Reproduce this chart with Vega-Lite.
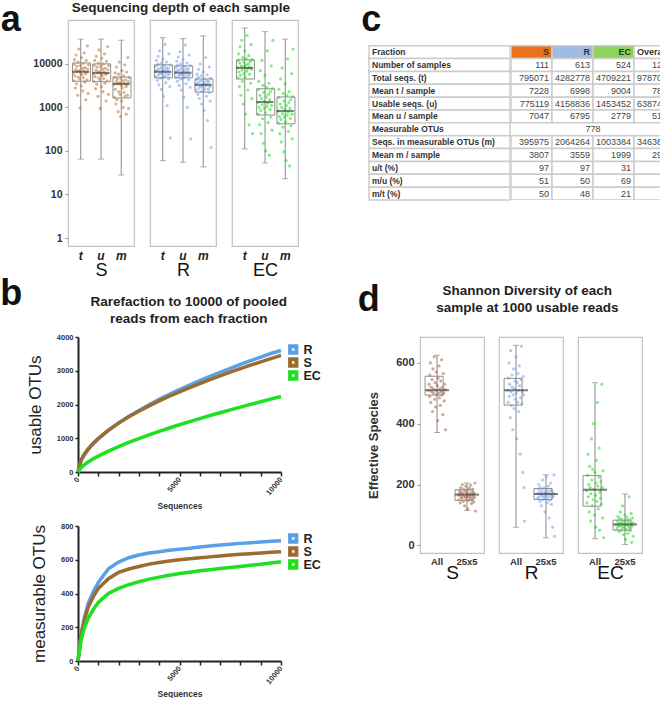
{
"$schema":"https://vega.github.io/schema/vega-lite/v6.json",
"padding":0,
"background":"white",
"config":{"font":"Liberation Sans","view":{"stroke":"#c2c2c2","strokeWidth":1.2},"axis":{"grid":false},"title":{"color":"#111"}},
"datasets":{
"a":[
{"k":"p","f":"S","v":"t","y":[6200,4100,9800,12500,5300,2800,7400,16000,3500,8800,6600,1900,11000,5000,22000,7000,4500,980,9200,6100,3100,14000,5600,7900,2400,10300,4800,6900,18000,3800,8200,5900,1500,12000,6400,4300,26000,7600,2100,9500]},
{"k":"p","f":"S","v":"u","y":[5900,3900,9300,12000,5100,2700,7100,15000,3400,8400,6300,1800,10500,4800,21000,6700,4300,950,8800,5800,3000,13500,5400,7600,2300,9900,4600,6600,17000,3600,7900,5700,1400,11500,6100,4100,25000,7300,2000,9100]},
{"k":"p","f":"S","v":"m","y":[3400,1700,4900,6200,2600,1200,3900,8500,1500,4500,3500,800,5800,2300,11000,3700,2000,620,4700,3200,1400,7000,2800,4100,1000,5300,2200,3600,9500,1800,4300,3000,700,6500,3300,1900,14000,3900,950,4800]},
{"k":"p","f":"R","v":"t","y":[6600,5100,8900,12000,7200,4200,9800,15000,5600,3300,7700,20000,6100,4700,10500,2600,8300,5900,6900,13000,4900,1800,7400,9200,5300,28000,6300,3700,8100,11000,1100,6800,5500,7900,4500,17000,6000,3000,9500,200]},
{"k":"p","f":"R","v":"u","y":[6300,4900,8500,11500,6900,4000,9400,14500,5400,3200,7400,19000,5800,4500,10000,2500,7900,5600,6600,12500,4700,1700,7100,8800,5100,27000,6000,3500,7700,10500,1000,6500,5300,7600,4300,16000,5700,2900,9100,190]},
{"k":"p","f":"R","v":"m","y":[3300,2500,4400,5800,3600,2000,4900,7500,2800,1600,3900,10000,3100,2300,5300,1200,4200,2900,3400,6500,2400,850,3700,4600,2700,14000,3200,1800,4100,5600,500,3500,2600,4000,2200,8500,3000,1400,4700,120]},
{"k":"p","f":"EC","v":"t","y":[8100,4800,12000,17000,6500,3000,10500,25000,5500,1900,9000,35000,7200,4000,14000,1200,11000,6000,8800,20000,5000,700,9500,13000,6800,45000,7800,2500,10000,15500,400,8500,5800,11500,3600,28000,7500,1600,12500,250]},
{"k":"p","f":"EC","v":"u","y":[1300,700,2600,4000,1000,400,1900,7000,850,250,1600,12000,1150,550,3200,150,2200,950,1400,5500,750,100,1750,2900,1050,20000,1250,450,2000,3600,80,1500,900,2300,600,9000,1100,300,2700,35000]},
{"k":"p","f":"EC","v":"m","y":[820,440,1700,2600,620,250,1200,4500,530,160,1000,8000,720,350,2100,95,1400,600,900,3500,470,60,1100,1900,660,13000,780,280,1300,2300,45,950,560,1500,380,6000,700,190,1750,22000]},
{"k":"s","f":"S","v":"t","lo":65,"q1":4000,"md":6600,"q3":10500,"hi":37000},
{"k":"s","f":"S","v":"u","lo":65,"q1":3900,"md":6200,"q3":10000,"hi":37000},
{"k":"s","f":"S","v":"m","lo":28,"q1":1650,"md":3470,"q3":5000,"hi":35000},
{"k":"s","f":"R","v":"t","lo":60,"q1":4800,"md":6600,"q3":9500,"hi":40000},
{"k":"s","f":"R","v":"u","lo":55,"q1":4800,"md":6300,"q3":9000,"hi":38000},
{"k":"s","f":"R","v":"m","lo":43,"q1":2250,"md":3300,"q3":4500,"hi":44000},
{"k":"s","f":"EC","v":"t","lo":111,"q1":4500,"md":8100,"q3":12400,"hi":67000},
{"k":"s","f":"EC","v":"u","lo":53,"q1":670,"md":1330,"q3":2680,"hi":55000},
{"k":"s","f":"EC","v":"m","lo":23,"q1":420,"md":830,"q3":1740,"hi":37000}
],
"d":[
{"kd":"pts","g":"S","w":"All","e":[510,530,490,560,600,470,520,505,545,440,580,515,500,620,480,535,455,510,570,495,525,410,550,500,590,485,515,460,540,505,610,495,520,430,565,500,475,530,512,380]},
{"kd":"pts","g":"S","w":"25x5","e":[165,150,180,170,140,190,160,175,155,200,168,145,185,162,130,178,158,195,150,172,165,120,182,160,148,188,170,155,198,163,138,176,152,185,166,143,172,158,205,113]},
{"kd":"pts","g":"R","w":"All","e":[510,470,550,600,490,530,420,640,505,460,560,520,380,495,580,450,515,540,480,620,500,350,535,470,565,510,440,590,525,300,485,545,655,465,505,240,555,495,190,80]},
{"kd":"pts","g":"R","w":"25x5","e":[170,155,185,200,160,175,145,190,168,130,180,162,215,150,172,188,158,110,176,165,225,152,183,140,170,195,160,90,178,148,205,167,135,182,157,60,173,163,232,30]},
{"kd":"pts","g":"EC","w":"All","e":[180,140,230,300,160,200,110,260,190,80,170,350,215,130,250,150,400,185,100,240,165,60,205,280,145,470,195,120,225,320,50,175,155,210,135,530,190,90,245,25]},
{"kd":"pts","g":"EC","w":"25x5","e":[68,55,80,95,62,72,45,88,65,110,75,50,85,60,130,70,35,78,58,100,66,20,82,52,92,68,40,76,63,160,57,84,48,71,105,10,64,90,74,30]},
{"kd":"box","g":"S","w":"All","wlo":371,"bq1":494,"bmd":510,"bq3":556,"whi":625},
{"kd":"box","g":"S","w":"25x5","wlo":115,"bq1":148,"bmd":167,"bq3":183,"whi":205},
{"kd":"box","g":"R","w":"All","wlo":60,"bq1":461,"bmd":510,"bq3":549,"whi":658},
{"kd":"box","g":"R","w":"25x5","wlo":25,"bq1":151,"bmd":169,"bq3":187,"whi":232},
{"kd":"box","g":"EC","w":"All","wlo":22,"bq1":129,"bmd":183,"bq3":230,"whi":535},
{"kd":"box","g":"EC","w":"25x5","wlo":3,"bq1":50,"bmd":69,"bq3":83,"whi":169}
],
"lines":[
{"p":"u","s":"R","x":[0,150,300,500,750,1000,1500,2000,2500,3000,3500,4000,4500,5000,5500,6000,6500,7000,7500,8000,8500,9000,9500,10000],"y":[0,334,495,661,833,979,1232,1451,1642,1825,1993,2151,2299,2440,2576,2705,2831,2952,3071,3186,3297,3406,3510,3600]},
{"p":"u","s":"S","x":[0,150,300,500,750,1000,1500,2000,2500,3000,3500,4000,4500,5000,5500,6000,6500,7000,7500,8000,8500,9000,9500,10000],"y":[0,358,520,686,853,997,1240,1448,1635,1802,1960,2106,2244,2376,2502,2620,2738,2850,2957,3062,3165,3265,3360,3454]},
{"p":"u","s":"EC","x":[0,150,300,500,750,1000,1500,2000,2500,3000,3500,4000,4500,5000,5500,6000,6500,7000,7500,8000,8500,9000,9500,10000],"y":[0,131,210,296,389,472,620,754,877,991,1101,1205,1303,1400,1493,1583,1673,1757,1841,1923,2003,2083,2159,2235]},
{"p":"m","s":"R","x":[0,150,300,500,750,1000,1500,2000,2500,3000,3500,4000,4500,5000,5500,6000,6500,7000,7500,8000,8500,9000,9500,10000],"y":[0,160,250,341,410,465,547,586,612,628,640,648,656,662,668,676,682,687,692,697,701,705,709,712]},
{"p":"m","s":"S","x":[0,150,300,500,750,1000,1500,2000,2500,3000,3500,4000,4500,5000,5500,6000,6500,7000,7500,8000,8500,9000,9500,10000],"y":[0,150,235,318,380,430,488,525,545,560,574,584,592,600,606,612,617,622,628,632,636,640,644,647]},
{"p":"m","s":"EC","x":[0,150,300,500,750,1000,1500,2000,2500,3000,3500,4000,4500,5000,5500,6000,6500,7000,7500,8000,8500,9000,9500,10000],"y":[0,122,190,253,305,347,400,430,452,470,485,497,508,518,526,535,541,548,554,560,567,574,581,588]}
],
"table":[
{"c":"label","r":1,"t":"Fraction"},{"c":"S","r":1,"t":"S"},{"c":"R","r":1,"t":"R"},{"c":"EC","r":1,"t":"EC"},{"c":"Overall","r":1,"t":"Overall"},
{"c":"label","r":2,"t":"Number of samples"},{"c":"S","r":2,"t":"111"},{"c":"R","r":2,"t":"613"},{"c":"EC","r":2,"t":"524"},{"c":"Overall","r":2,"t":"1248"},
{"c":"label","r":3,"t":"Total seqs. (t)"},{"c":"S","r":3,"t":"795071"},{"c":"R","r":3,"t":"4282778"},{"c":"EC","r":3,"t":"4709221"},{"c":"Overall","r":3,"t":"9787070"},
{"c":"label","r":4,"t":"Mean t / sample"},{"c":"S","r":4,"t":"7228"},{"c":"R","r":4,"t":"6998"},{"c":"EC","r":4,"t":"9004"},{"c":"Overall","r":4,"t":"7861"},
{"c":"label","r":5,"t":"Usable seqs. (u)"},{"c":"S","r":5,"t":"775119"},{"c":"R","r":5,"t":"4158836"},{"c":"EC","r":5,"t":"1453452"},{"c":"Overall","r":5,"t":"6387407"},
{"c":"label","r":6,"t":"Mean u / sample"},{"c":"S","r":6,"t":"7047"},{"c":"R","r":6,"t":"6795"},{"c":"EC","r":6,"t":"2779"},{"c":"Overall","r":6,"t":"5130"},
{"c":"label","r":7,"t":"Measurable OTUs"},{"c":"EC","r":7,"t":"778"},
{"c":"label","r":8,"t":"Seqs. in measurable OTUs (m)"},{"c":"S","r":8,"t":"395975"},{"c":"R","r":8,"t":"2064264"},{"c":"EC","r":8,"t":"1003384"},{"c":"Overall","r":8,"t":"3463623"},
{"c":"label","r":9,"t":"Mean m / sample"},{"c":"S","r":9,"t":"3807"},{"c":"R","r":9,"t":"3559"},{"c":"EC","r":9,"t":"1999"},{"c":"Overall","r":9,"t":"2920"},
{"c":"label","r":10,"t":"u/t (%)"},{"c":"S","r":10,"t":"97"},{"c":"R","r":10,"t":"97"},{"c":"EC","r":10,"t":"31"},{"c":"Overall","r":10,"t":"65"},
{"c":"label","r":11,"t":"m/u (%)"},{"c":"S","r":11,"t":"51"},{"c":"R","r":11,"t":"50"},{"c":"EC","r":11,"t":"69"},{"c":"Overall","r":11,"t":"54"},
{"c":"label","r":12,"t":"m/t (%)"},{"c":"S","r":12,"t":"50"},{"c":"R","r":12,"t":"48"},{"c":"EC","r":12,"t":"21"},{"c":"Overall","r":12,"t":"35"}
]
},
"resolve":{"scale":{"color":"independent","fill":"independent","xOffset":"independent"},"legend":{"color":"independent"}},
"spacing":-5,
"vconcat":[
{"hconcat":[
 {"title":{"text":"Sequencing depth of each sample","fontSize":13.5,"fontWeight":"bold","color":"#222","anchor":"middle","frame":"bounds","offset":-13,"dx":31.5},
  "spacing":14,
  "resolve":{"scale":{"xOffset":"independent"}},
  "hconcat":[
   {"data":{"name":"a"},"transform":[{"filter":"datum.f=='S'"}],"width":66,"height":226,
    "title":{"text":"a","fontSize":36,"fontWeight":"bold","color":"#111","anchor":"start","frame":"bounds","offset":-19,"dx":-32},
    "encoding":{"x":{"field":"v","type":"nominal","scale":{"domain":["t","u","m"],"paddingInner":0,"paddingOuter":0.13},"axis":{"title":"S","titleFontSize":18,"titleFontWeight":"normal","titleColor":"#111","titlePadding":0,"labelAngle":0,"labelFontStyle":"italic","labelFontWeight":"bold","labelFontSize":12,"labelColor":"#222","ticks":false,"domain":false,"labelPadding":4}}},
    "layer":[
     {"transform":[{"filter":"datum.k=='s'"}],"mark":{"type":"rule","color":"#8a8a8a","strokeWidth":1},"encoding":{"y":{"field":"lo","type":"quantitative","title":null,"scale":{"type":"log","domain":[0.655,102000],"nice":false},"axis":{"values":[1,10,100,1000,10000],"format":"d","labelFontSize":10.5,"labelFontWeight":"bold","labelColor":"#333","tickColor":"#999","tickSize":3,"domain":false,"labelPadding":3}},"y2":{"field":"hi"}}},
     {"transform":[{"filter":"datum.k=='p'"},{"flatten":["y"]},{"window":[{"op":"row_number","as":"i"}],"groupby":["v"]}],"mark":{"type":"circle","size":10,"opacity":0.5,"color":"#b5651d"},"encoding":{"y":{"field":"y","type":"quantitative","title":null},"xOffset":{"field":"i","type":"quantitative","scale":{"domain":[-6,46]}}}},
     {"transform":[{"filter":"datum.k=='s'"}],"mark":{"type":"tick","color":"#8a8a8a","thickness":1,"size":6},"encoding":{"y":{"field":"lo","type":"quantitative","title":null}}},
     {"transform":[{"filter":"datum.k=='s'"}],"mark":{"type":"tick","color":"#8a8a8a","thickness":1,"size":6},"encoding":{"y":{"field":"hi","type":"quantitative","title":null}}},
     {"transform":[{"filter":"datum.k=='s'"}],"mark":{"type":"bar","width":{"band":0.82},"fill":"white","fillOpacity":0,"stroke":"#8f8f8f","strokeWidth":1},"encoding":{"y":{"field":"q1","type":"quantitative","title":null},"y2":{"field":"q3"}}},
     {"transform":[{"filter":"datum.k=='s'"}],"mark":{"type":"tick","color":"#444","thickness":2,"size":17},"encoding":{"y":{"field":"md","type":"quantitative","title":null}}}
    ]},
   {"data":{"name":"a"},"transform":[{"filter":"datum.f=='R'"}],"width":66,"height":226,
    "encoding":{"x":{"field":"v","type":"nominal","scale":{"domain":["t","u","m"],"paddingInner":0,"paddingOuter":0.13},"axis":{"title":"R","titleFontSize":18,"titleFontWeight":"normal","titleColor":"#111","titlePadding":0,"labelAngle":0,"labelFontStyle":"italic","labelFontWeight":"bold","labelFontSize":12,"labelColor":"#222","ticks":false,"domain":false,"labelPadding":4}}},
    "layer":[
     {"transform":[{"filter":"datum.k=='s'"}],"mark":{"type":"rule","color":"#8a8a8a","strokeWidth":1},"encoding":{"y":{"field":"lo","type":"quantitative","axis":null,"scale":{"type":"log","domain":[0.655,102000],"nice":false}},"y2":{"field":"hi"}}},
     {"transform":[{"filter":"datum.k=='p'"},{"flatten":["y"]},{"window":[{"op":"row_number","as":"i"}],"groupby":["v"]}],"mark":{"type":"circle","size":10,"opacity":0.5,"color":"#6495ed"},"encoding":{"y":{"field":"y","type":"quantitative","axis":null},"xOffset":{"field":"i","type":"quantitative","scale":{"domain":[-6,46]}}}},
     {"transform":[{"filter":"datum.k=='s'"}],"mark":{"type":"tick","color":"#8a8a8a","thickness":1,"size":6},"encoding":{"y":{"field":"lo","type":"quantitative","axis":null}}},
     {"transform":[{"filter":"datum.k=='s'"}],"mark":{"type":"tick","color":"#8a8a8a","thickness":1,"size":6},"encoding":{"y":{"field":"hi","type":"quantitative","axis":null}}},
     {"transform":[{"filter":"datum.k=='s'"}],"mark":{"type":"bar","width":{"band":0.82},"fill":"white","fillOpacity":0,"stroke":"#8f8f8f","strokeWidth":1},"encoding":{"y":{"field":"q1","type":"quantitative","axis":null},"y2":{"field":"q3"}}},
     {"transform":[{"filter":"datum.k=='s'"}],"mark":{"type":"tick","color":"#444","thickness":2,"size":17},"encoding":{"y":{"field":"md","type":"quantitative","axis":null}}}
    ]},
   {"data":{"name":"a"},"transform":[{"filter":"datum.f=='EC'"}],"width":66,"height":226,
    "encoding":{"x":{"field":"v","type":"nominal","scale":{"domain":["t","u","m"],"paddingInner":0,"paddingOuter":0.13},"axis":{"title":"EC","titleFontSize":18,"titleFontWeight":"normal","titleColor":"#111","titlePadding":0,"labelAngle":0,"labelFontStyle":"italic","labelFontWeight":"bold","labelFontSize":12,"labelColor":"#222","ticks":false,"domain":false,"labelPadding":4}}},
    "layer":[
     {"transform":[{"filter":"datum.k=='s'"}],"mark":{"type":"rule","color":"#8a8a8a","strokeWidth":1},"encoding":{"y":{"field":"lo","type":"quantitative","axis":null,"scale":{"type":"log","domain":[0.655,102000],"nice":false}},"y2":{"field":"hi"}}},
     {"transform":[{"filter":"datum.k=='p'"},{"flatten":["y"]},{"window":[{"op":"row_number","as":"i"}],"groupby":["v"]}],"mark":{"type":"circle","size":10,"opacity":0.5,"color":"#00e000"},"encoding":{"y":{"field":"y","type":"quantitative","axis":null},"xOffset":{"field":"i","type":"quantitative","scale":{"domain":[-6,46]}}}},
     {"transform":[{"filter":"datum.k=='s'"}],"mark":{"type":"tick","color":"#8a8a8a","thickness":1,"size":6},"encoding":{"y":{"field":"lo","type":"quantitative","axis":null}}},
     {"transform":[{"filter":"datum.k=='s'"}],"mark":{"type":"tick","color":"#8a8a8a","thickness":1,"size":6},"encoding":{"y":{"field":"hi","type":"quantitative","axis":null}}},
     {"transform":[{"filter":"datum.k=='s'"}],"mark":{"type":"bar","width":{"band":0.82},"fill":"white","fillOpacity":0,"stroke":"#8f8f8f","strokeWidth":1},"encoding":{"y":{"field":"q1","type":"quantitative","axis":null},"y2":{"field":"q3"}}},
     {"transform":[{"filter":"datum.k=='s'"}],"mark":{"type":"tick","color":"#444","thickness":2,"size":17},"encoding":{"y":{"field":"md","type":"quantitative","axis":null}}}
    ]}
  ]},
 {"title":{"text":"c","fontSize":36,"fontWeight":"bold","color":"#111","anchor":"start","frame":"bounds","offset":-19,"dx":-7},
  "spacing":0,
  "hconcat":[
   {"data":{"name":"table"},"transform":[{"filter":"datum.c=='label'"}],"width":141,"height":180,"view":{"stroke":null},
    "encoding":{"y":{"field":"r","type":"ordinal","scale":{"domain":[1,2,3,4,5,6,7,8,9,10,11,12],"paddingInner":0,"paddingOuter":1.105,"align":1},"axis":null},"x":{"field":"c","type":"nominal","scale":{"paddingInner":0,"paddingOuter":0},"axis":null}},
    "layer":[
     {"mark":{"type":"rect","fill":"white","stroke":"#cccccc","strokeWidth":1.5,"width":{"band":1},"height":{"band":1}}},
     {"mark":{"type":"text","align":"left","dx":3,"fontSize":8.5,"fontWeight":"bold","color":"#333"},"encoding":{"x":{"field":"c","type":"nominal","bandPosition":0},"text":{"field":"t"}}}
    ]},
   {"data":{"name":"table"},"transform":[{"filter":"datum.c!='label'"}],"width":157,"height":180,"view":{"stroke":null},
    "encoding":{"y":{"field":"r","type":"ordinal","scale":{"domain":[1,2,3,4,5,6,7,8,9,10,11,12],"paddingInner":0,"paddingOuter":1.105,"align":1},"axis":null},"x":{"field":"c","type":"nominal","scale":{"domain":["S","R","EC","Overall"],"range":[0,164],"paddingInner":0,"paddingOuter":0},"axis":null}},
    "layer":[
     {"transform":[{"filter":"datum.r==1"}],"mark":{"type":"rect","stroke":"#cccccc","strokeWidth":1.5,"clip":true,"width":{"band":1},"height":{"band":1}},"encoding":{"fill":{"field":"c","type":"nominal","scale":{"domain":["S","R","EC","Overall"],"range":["#e8731a","#9dbbe3","#8ed35a","#ffffff"]},"legend":null}}},
     {"transform":[{"filter":"datum.r>1 && datum.r!=7"}],"mark":{"type":"rect","fill":"white","stroke":"#cccccc","strokeWidth":1.5,"clip":true,"width":{"band":1},"height":{"band":1}}},
     {"transform":[{"filter":"datum.r>1 && datum.r!=7"}],"mark":{"type":"text","align":"right","dx":-3,"fontSize":9,"color":"#444","clip":true},"encoding":{"x":{"field":"c","type":"nominal","bandPosition":1},"text":{"field":"t"}}},
     {"transform":[{"filter":"datum.r==1 && datum.c!='Overall'"}],"mark":{"type":"text","align":"right","dx":-3,"fontSize":9,"fontWeight":"bold","color":"#333"},"encoding":{"x":{"field":"c","type":"nominal","bandPosition":1},"text":{"field":"t"}}},
     {"transform":[{"filter":"datum.r==1 && datum.c=='Overall'"}],"mark":{"type":"text","align":"left","dx":3,"fontSize":9,"fontWeight":"bold","color":"#333","clip":true},"encoding":{"x":{"field":"c","type":"nominal","bandPosition":0},"text":{"field":"t"}}},
     {"transform":[{"filter":"datum.r==7"}],"mark":{"type":"text","align":"center","fontSize":9,"color":"#444"},"encoding":{"x":{"field":"c","type":"nominal","bandPosition":0},"text":{"field":"t"}}}
    ]}
  ]}
 ],
 "spacing":62,
 "resolve":{"scale":{"color":"independent","fill":"independent","xOffset":"independent"},"legend":{"color":"independent"}}
},
{"hconcat":[
 {"title":{"text":"b","fontSize":36,"fontWeight":"bold","color":"#111","anchor":"start","frame":"bounds","offset":-18,"dx":-26},
  "spacing":12,
  "resolve":{"scale":{"color":"independent"},"legend":{"color":"independent"}},
  "vconcat":[
   {"data":{"name":"lines"},"transform":[{"filter":"datum.p=='u'"},{"flatten":["x","y"]}],
    "title":{"text":["Rarefaction to 10000 of pooled","reads from each fraction"],"fontSize":13.5,"fontWeight":"bold","lineHeight":17,"color":"#222","offset":8,"dx":12,"anchor":"middle","frame":"bounds"},
    "width":213,"height":135,"view":{"stroke":null},
    "mark":{"type":"line","strokeWidth":3.5},
    "encoding":{
     "x":{"field":"x","type":"quantitative","scale":{"domain":[0,10000],"nice":false,"range":[10,213]},"axis":{"title":"Sequences","values":[0,1000,2000,3000,4000,5000,6000,7000,8000,9000,10000],"format":"d","labelExpr":"datum.value % 5000 == 0 ? datum.label : ''","labelAngle":-50,"labelFontSize":7.5,"labelFontWeight":"bold","labelColor":"#333","labelFlush":false,"labelOverlap":false,"domainColor":"#222","domainWidth":2,"tickColor":"#222","tickWidth":1.5,"tickSize":4,"titleFontSize":8.5,"titleFontWeight":"bold","titleColor":"#333","titlePadding":5}},
     "y":{"field":"y","type":"quantitative","scale":{"domain":[0,4000],"nice":false},"axis":{"title":"usable OTUs","offset":-10,"values":[0,1000,2000,3000,4000],"format":"d","labelFontSize":7.5,"labelFontWeight":"bold","labelColor":"#333","domainColor":"#222","domainWidth":2,"tickColor":"#222","tickWidth":1.5,"tickSize":3,"titleFontSize":17,"titleFontWeight":"normal","titleColor":"#222","titlePadding":12}},
     "color":{"field":"s","type":"nominal","scale":{"domain":["R","S","EC"],"range":["#5aa0e8","#9c6b30","#1fe01f"]},"legend":{"title":null,"orient":"right","offset":-7,"symbolType":"square","symbolSize":40,"symbolStrokeWidth":4,"labelFontSize":12.5,"labelFontWeight":"bold","labelColor":"#222","rowPadding":0,"labelOffset":4,"padding":6,"clipHeight":13}}
    }},
   {"data":{"name":"lines"},"transform":[{"filter":"datum.p=='m'"},{"flatten":["x","y"]}],
    "width":213,"height":135,"view":{"stroke":null},
    "mark":{"type":"line","strokeWidth":3.5},
    "encoding":{
     "x":{"field":"x","type":"quantitative","scale":{"domain":[0,10000],"nice":false,"range":[10,213]},"axis":{"title":"Sequences","values":[0,1000,2000,3000,4000,5000,6000,7000,8000,9000,10000],"format":"d","labelExpr":"datum.value % 5000 == 0 ? datum.label : ''","labelAngle":-50,"labelFontSize":7.5,"labelFontWeight":"bold","labelColor":"#333","labelFlush":false,"labelOverlap":false,"domainColor":"#222","domainWidth":2,"tickColor":"#222","tickWidth":1.5,"tickSize":4,"titleFontSize":8.5,"titleFontWeight":"bold","titleColor":"#333","titlePadding":4}},
     "y":{"field":"y","type":"quantitative","scale":{"domain":[0,800],"nice":false},"axis":{"title":"measurable OTUs","offset":-10,"values":[0,200,400,600,800],"format":"d","labelFontSize":7.5,"labelFontWeight":"bold","labelColor":"#333","domainColor":"#222","domainWidth":2,"tickColor":"#222","tickWidth":1.5,"tickSize":3,"titleFontSize":17,"titleFontWeight":"normal","titleColor":"#222","titlePadding":12}},
     "color":{"field":"s","type":"nominal","scale":{"domain":["R","S","EC"],"range":["#5aa0e8","#9c6b30","#1fe01f"]},"legend":{"title":null,"orient":"right","offset":-7,"symbolType":"square","symbolSize":40,"symbolStrokeWidth":4,"labelFontSize":12.5,"labelFontWeight":"bold","labelColor":"#222","rowPadding":0,"labelOffset":4,"padding":6,"clipHeight":13}}
    }}
  ]},
 {"title":{"text":["Shannon Diversity of each","sample at 1000 usable reads"],"fontSize":13.5,"fontWeight":"bold","lineHeight":17,"color":"#222","anchor":"middle","frame":"bounds","offset":-33,"dx":27.5},
  "spacing":13,
  "resolve":{"scale":{"xOffset":"independent"}},
  "hconcat":[
   {"data":{"name":"d"},"transform":[{"filter":"datum.g=='S'"}],"width":64,"height":216,
    "title":{"text":"d","fontSize":36,"fontWeight":"bold","color":"#111","anchor":"start","frame":"bounds","offset":18,"dx":-10},
    "encoding":{"x":{"field":"w","type":"nominal","scale":{"domain":["All","25x5"],"paddingInner":0,"paddingOuter":0.07},"axis":{"title":"S","titleFontSize":19,"titleFontWeight":"normal","titleColor":"#111","titlePadding":-2,"labelAngle":0,"labelFontWeight":"bold","labelFontSize":9.5,"labelColor":"#333","ticks":false,"domain":false,"labelPadding":3}}},
    "layer":[
     {"transform":[{"filter":"datum.kd=='box'"}],"mark":{"type":"rule","color":"#8a8a8a","strokeWidth":1},"encoding":{"y":{"field":"wlo","type":"quantitative","title":"Effective Species","scale":{"domain":[-25,685],"nice":false,"zero":false},"axis":{"values":[0,100,200,300,400,500,600],"labelFontSize":11,"labelFontWeight":"bold","labelColor":"#333","tickColor":"#999","tickSize":3,"domain":false,"labelPadding":3,"titleFontSize":13,"titleFontWeight":"bold","titleColor":"#333","titlePadding":15}},"y2":{"field":"whi"}}},
     {"transform":[{"filter":"datum.kd=='pts'"},{"flatten":["e"]},{"window":[{"op":"row_number","as":"j"}],"groupby":["w"]}],"mark":{"type":"circle","size":10,"opacity":0.5,"color":"#a0522d"},"encoding":{"y":{"field":"e","type":"quantitative"},"xOffset":{"field":"j","type":"quantitative","scale":{"domain":[-14,55]}}}},
     {"transform":[{"filter":"datum.kd=='box'"}],"mark":{"type":"tick","color":"#8a8a8a","thickness":1,"size":6},"encoding":{"y":{"field":"wlo","type":"quantitative"}}},
     {"transform":[{"filter":"datum.kd=='box'"}],"mark":{"type":"tick","color":"#8a8a8a","thickness":1,"size":6},"encoding":{"y":{"field":"whi","type":"quantitative"}}},
     {"transform":[{"filter":"datum.kd=='box'"}],"mark":{"type":"bar","width":{"band":0.8},"fill":"white","fillOpacity":0,"stroke":"#8f8f8f","strokeWidth":1},"encoding":{"y":{"field":"bq1","type":"quantitative"},"y2":{"field":"bq3"}}},
     {"transform":[{"filter":"datum.kd=='box'"}],"mark":{"type":"tick","color":"#444","thickness":2,"size":24},"encoding":{"y":{"field":"bmd","type":"quantitative"}}}
    ]},
   {"data":{"name":"d"},"transform":[{"filter":"datum.g=='R'"}],"width":64,"height":216,
    "encoding":{"x":{"field":"w","type":"nominal","scale":{"domain":["All","25x5"],"paddingInner":0,"paddingOuter":0.07},"axis":{"title":"R","titleFontSize":19,"titleFontWeight":"normal","titleColor":"#111","titlePadding":-2,"labelAngle":0,"labelFontWeight":"bold","labelFontSize":9.5,"labelColor":"#333","ticks":false,"domain":false,"labelPadding":3}}},
    "layer":[
     {"transform":[{"filter":"datum.kd=='box'"}],"mark":{"type":"rule","color":"#8a8a8a","strokeWidth":1},"encoding":{"y":{"field":"wlo","type":"quantitative","axis":null,"scale":{"domain":[-25,685],"nice":false,"zero":false}},"y2":{"field":"whi"}}},
     {"transform":[{"filter":"datum.kd=='pts'"},{"flatten":["e"]},{"window":[{"op":"row_number","as":"j"}],"groupby":["w"]}],"mark":{"type":"circle","size":10,"opacity":0.5,"color":"#6495ed"},"encoding":{"y":{"field":"e","type":"quantitative","axis":null},"xOffset":{"field":"j","type":"quantitative","scale":{"domain":[-14,55]}}}},
     {"transform":[{"filter":"datum.kd=='box'"}],"mark":{"type":"tick","color":"#8a8a8a","thickness":1,"size":6},"encoding":{"y":{"field":"wlo","type":"quantitative","axis":null}}},
     {"transform":[{"filter":"datum.kd=='box'"}],"mark":{"type":"tick","color":"#8a8a8a","thickness":1,"size":6},"encoding":{"y":{"field":"whi","type":"quantitative","axis":null}}},
     {"transform":[{"filter":"datum.kd=='box'"}],"mark":{"type":"bar","width":{"band":0.8},"fill":"white","fillOpacity":0,"stroke":"#8f8f8f","strokeWidth":1},"encoding":{"y":{"field":"bq1","type":"quantitative","axis":null},"y2":{"field":"bq3"}}},
     {"transform":[{"filter":"datum.kd=='box'"}],"mark":{"type":"tick","color":"#444","thickness":2,"size":24},"encoding":{"y":{"field":"bmd","type":"quantitative","axis":null}}}
    ]},
   {"data":{"name":"d"},"transform":[{"filter":"datum.g=='EC'"}],"width":64,"height":216,
    "encoding":{"x":{"field":"w","type":"nominal","scale":{"domain":["All","25x5"],"paddingInner":0,"paddingOuter":0.07},"axis":{"title":"EC","titleFontSize":19,"titleFontWeight":"normal","titleColor":"#111","titlePadding":-2,"labelAngle":0,"labelFontWeight":"bold","labelFontSize":9.5,"labelColor":"#333","ticks":false,"domain":false,"labelPadding":3}}},
    "layer":[
     {"transform":[{"filter":"datum.kd=='box'"}],"mark":{"type":"rule","color":"#8a8a8a","strokeWidth":1},"encoding":{"y":{"field":"wlo","type":"quantitative","axis":null,"scale":{"domain":[-25,685],"nice":false,"zero":false}},"y2":{"field":"whi"}}},
     {"transform":[{"filter":"datum.kd=='pts'"},{"flatten":["e"]},{"window":[{"op":"row_number","as":"j"}],"groupby":["w"]}],"mark":{"type":"circle","size":10,"opacity":0.5,"color":"#00e000"},"encoding":{"y":{"field":"e","type":"quantitative","axis":null},"xOffset":{"field":"j","type":"quantitative","scale":{"domain":[-14,55]}}}},
     {"transform":[{"filter":"datum.kd=='box'"}],"mark":{"type":"tick","color":"#8a8a8a","thickness":1,"size":6},"encoding":{"y":{"field":"wlo","type":"quantitative","axis":null}}},
     {"transform":[{"filter":"datum.kd=='box'"}],"mark":{"type":"tick","color":"#8a8a8a","thickness":1,"size":6},"encoding":{"y":{"field":"whi","type":"quantitative","axis":null}}},
     {"transform":[{"filter":"datum.kd=='box'"}],"mark":{"type":"bar","width":{"band":0.8},"fill":"white","fillOpacity":0,"stroke":"#8f8f8f","strokeWidth":1},"encoding":{"y":{"field":"bq1","type":"quantitative","axis":null},"y2":{"field":"bq3"}}},
     {"transform":[{"filter":"datum.kd=='box'"}],"mark":{"type":"tick","color":"#444","thickness":2,"size":24},"encoding":{"y":{"field":"bmd","type":"quantitative","axis":null}}}
    ]}
  ]}
 ],
 "spacing":30,
 "resolve":{"scale":{"color":"independent","fill":"independent","xOffset":"independent"},"legend":{"color":"independent"}}
}
]
}
